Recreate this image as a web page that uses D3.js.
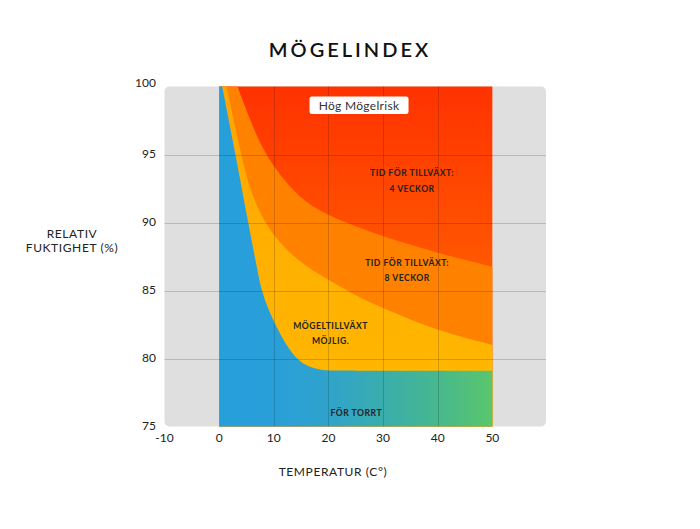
<!DOCTYPE html>
<html>
<head>
<meta charset="utf-8">
<title>Mögelindex</title>
<script src="https://cdn.jsdelivr.net/npm/d3@7"></script>
<style>
    body { margin: 0; background: #fff; }
    svg { font-family: Lato, "Open Sans", sans-serif; }
    .tick-label { font-size: 12px; fill: #222; }
    .axis-title { font-size: 12px; fill: #222; letter-spacing: 0.6px; }
    .note { font-size: 8.6px; font-weight: bold; fill: #222; letter-spacing: 0.5px; text-anchor: middle; }
    .grid line { stroke: #000; stroke-opacity: 0.17; stroke-width: 1; }
</style>
</head>
<body>
<div id="vis"></div>
<script>
    // axel-ticks
    var tempTicks = [-10, 0, 10, 20, 30, 40, 50];
    var rhTicks = [75, 80, 85, 90, 95, 100];

    // gräns: mögeltillväxt möjlig (under = för torrt)
    var limitT  = [0.55, 3,  5.3, 7,    7.75, 9,    10.5, 12,   13.5, 15,   17,   19,    21,   50];
    var limitRH = [100,  95, 90,  86.5, 85,   83.6, 82.3, 81.2, 80.3, 79.7, 79.3, 79.12, 79.1, 79.1];

    // gräns: tid för tillväxt 8 veckor
    var weeks8T  = [1.35, 4,  5.6,  8.2, 12, 16.9, 20,   25,   30,   35,    40,   45,   50];
    var weeks8RH = [100,  95, 92.4, 90,  88, 86.5, 85.8, 84.6, 83.7, 82.85, 82.1, 81.5, 81];

    // gräns: tid för tillväxt 4 veckor
    var weeks4T  = [3.35, 5.6,  8.3, 13.2, 17.5, 23, 30,    40,    50];
    var weeks4RH = [100,  97.6, 95,  92.4, 91,   90, 88.95, 87.75, 86.75];

    var width = 700,
        height = 529;

    var x = d3.scaleLinear().domain([-10, 60]).range([164.5, 547]);
    var y = d3.scaleLinear().domain([75, 100]).range([426.5, 86.5]);

    var svg = d3.select("#vis").append("svg")
        .attr("width", width)
        .attr("height", height);

    var defs = svg.append("defs");

    var blueGrad = defs.append("linearGradient")
        .attr("id", "blueGrad")
        .attr("gradientUnits", "userSpaceOnUse")
        .attr("x1", x(0)).attr("x2", x(50))
        .attr("y1", 0).attr("y2", 0);
    [[0, "#279fdc"], [0.2, "#299fd9"], [0.4, "#2fa3cb"], [0.6, "#3aadad"], [0.8, "#47b88e"], [1, "#5ac66c"]]
        .forEach(function(s) {
            blueGrad.append("stop").attr("offset", s[0]).attr("stop-color", s[1]);
        });

    var redGrad = defs.append("linearGradient")
        .attr("id", "redGrad")
        .attr("gradientUnits", "userSpaceOnUse")
        .attr("x1", 0).attr("x2", 0)
        .attr("y1", y(100)).attr("y2", y(86.5));
    redGrad.append("stop").attr("offset", 0).attr("stop-color", "#ff3200");
    redGrad.append("stop").attr("offset", 1).attr("stop-color", "#ff5800");

    var yellowGrad = defs.append("linearGradient")
        .attr("id", "yellowGrad")
        .attr("gradientUnits", "userSpaceOnUse")
        .attr("x1", 0).attr("x2", 0)
        .attr("y1", y(100)).attr("y2", y(79));
    yellowGrad.append("stop").attr("offset", 0).attr("stop-color", "#ffa500");
    yellowGrad.append("stop").attr("offset", 1).attr("stop-color", "#ffb700");

    // grå bakgrund
    svg.append("rect")
        .attr("x", x(-10))
        .attr("y", y(100))
        .attr("width", 546 - x(-10))
        .attr("height", y(75) - y(100))
        .attr("rx", 5)
        .attr("fill", "#dfdfdf");

    // röd zon = hela fältet 0-50
    svg.append("rect")
        .attr("x", x(0))
        .attr("y", y(100))
        .attr("width", x(50) - x(0))
        .attr("height", y(75) - y(100))
        .attr("fill", "url(#redGrad)");

    var curve = d3.line()
        .x(function(d) { return x(d[0]); })
        .y(function(d) { return y(d[1]); })
        .curve(d3.curveBasis);

    // zon under en gränskurva, stängd mot 0 °C och 75 %
    function zone(ts, rhs) {
        return "M" + x(0) + "," + y(75) +
            "L" + x(0) + "," + y(100) +
            curve(d3.zip(ts, rhs)).replace(/^M/, "L") +
            "L" + x(50) + "," + y(75) + "Z";
    }

    svg.append("path")
        .attr("d", zone(weeks4T, weeks4RH))
        .attr("fill", "#ff8100");

    svg.append("path")
        .attr("d", zone(weeks8T, weeks8RH))
        .attr("fill", "url(#yellowGrad)");

    svg.append("path")
        .attr("d", zone(limitT, limitRH))
        .attr("fill", "url(#blueGrad)");

    // rutnät
    var grid = svg.append("g").attr("class", "grid");

    grid.selectAll(".h")
        .data(rhTicks.slice(1, -1))
        .enter().append("line")
        .attr("x1", x(-10))
        .attr("x2", 546)
        .attr("y1", function(d) { return Math.round(y(d)) + 0.5; })
        .attr("y2", function(d) { return Math.round(y(d)) + 0.5; });

    grid.selectAll(".v")
        .data([10, 20, 30, 40])
        .enter().append("line")
        .attr("y1", y(100))
        .attr("y2", y(75))
        .attr("x1", function(d) { return Math.round(x(d)) + 0.5; })
        .attr("x2", function(d) { return Math.round(x(d)) + 0.5; });

    // axeltext
    svg.selectAll(".ylab")
        .data(rhTicks)
        .enter().append("text")
        .attr("class", "tick-label")
        .attr("x", 156)
        .attr("y", function(d) { return y(d) - (d === 100 ? 4 : 1); })
        .attr("dy", "0.35em")
        .attr("text-anchor", "end")
        .text(function(d) { return d; });

    svg.selectAll(".xlab")
        .data(tempTicks)
        .enter().append("text")
        .attr("class", "tick-label")
        .attr("x", function(d) { return x(d); })
        .attr("y", 441.5)
        .attr("text-anchor", "middle")
        .text(function(d) { return d; });

    svg.append("text")
        .attr("x", 350)
        .attr("y", 57)
        .attr("text-anchor", "middle")
        .style("font-size", "20px")
        .style("font-weight", "600")
        .style("letter-spacing", "3px")
        .style("fill", "#111")
        .text("MÖGELINDEX");

    svg.append("text")
        .attr("class", "axis-title")
        .attr("x", 333)
        .attr("y", 476)
        .attr("text-anchor", "middle")
        .text("TEMPERATUR (C°)");

    var yTitle = svg.append("text")
        .attr("class", "axis-title")
        .attr("text-anchor", "middle");
    yTitle.append("tspan").attr("x", 72).attr("y", 237.5).text("RELATIV");
    yTitle.append("tspan").attr("x", 72).attr("y", 252).text("FUKTIGHET (%)");

    // etiketter i zonerna
    var notes = [
        { t: 35.3, rh: 93.4, lines: ["TID FÖR TILLVÄXT:", "4 VECKOR"] },
        { t: 34.4, rh: 86.8, lines: ["TID FÖR TILLVÄXT:", "8 VECKOR"] },
        { t: 20.4, rh: 82.2, lines: ["MÖGELTILLVÄXT", "MÖJLIG."] },
        { t: 25.1, rh: 75.8, lines: ["FÖR TORRT"] }
    ];

    notes.forEach(function(n) {
        var t = svg.append("text").attr("class", "note");
        n.lines.forEach(function(l, i) {
            t.append("tspan")
                .attr("x", x(n.t))
                .attr("y", y(n.rh) + i * 15.3)
                .text(l);
        });
    });

    var badge = svg.append("g")
        .attr("transform", "translate(" + x(25.6) + "," + y(98.6) + ")");
    badge.append("rect")
        .attr("x", -49.5)
        .attr("y", -9)
        .attr("width", 99)
        .attr("height", 17.5)
        .attr("rx", 2.5)
        .attr("fill", "#fff");
    badge.append("text")
        .attr("y", 4.2)
        .attr("text-anchor", "middle")
        .style("font-size", "12px")
        .style("fill", "#333")
        .style("letter-spacing", "0.3px")
        .text("Hög Mögelrisk");
</script>
</body>
</html>
